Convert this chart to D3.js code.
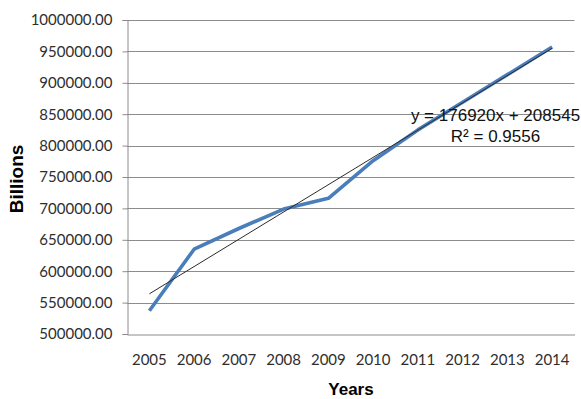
<!DOCTYPE html>
<html><head><meta charset="utf-8">
<script src="https://cdn.jsdelivr.net/npm/d3@7"></script>
<style>
html,body{margin:0;padding:0;background:#fff;}
svg{display:block;}
</style></head>
<body>
<script>
const years = ["2005","2006","2007","2008","2009","2010","2011","2012","2013","2014"];
const values = [537000, 635000, 668000, 699000, 716000, 776000, 825000, 869000, 913000, 957000];
const yTicks = [500000, 550000, 600000, 650000, 700000, 750000, 800000, 850000, 900000, 950000, 1000000];
const equationLines = ["y = 176920x + 208545", "R\u00B2 = 0.9556"];
const yTitle = "Billions";
const xTitle = "Years";

const W = 581, H = 399;
const L = 127, R = 574.5, T = 20, B = 334;

const svg = d3.select("body").append("svg").attr("width", W).attr("height", H);

const x = d3.scaleBand().domain(years).range([L, R]).paddingInner(0).paddingOuter(0);
const y = d3.scaleLinear().domain([500000, 1000000]).range([B, T]);
const cx = d => x(d) + x.bandwidth() / 2;

// gridlines
svg.append("g").selectAll("line").data(yTicks.filter(v => v > 500000)).join("line")
  .attr("x1", L).attr("x2", R).attr("y1", d => Math.round(y(d)) + 0.5).attr("y2", d => Math.round(y(d)) + 0.5)
  .attr("stroke", "#8c8c8c").attr("stroke-width", 1);

// y axis
const yAxis = d3.axisLeft(y).tickValues(yTicks).tickSize(5).tickPadding(10)
  .tickFormat(d => d3.format(".2f")(d));
const gy = svg.append("g").attr("transform", `translate(${L + 0.5},0)`).call(yAxis);
gy.select(".domain").attr("stroke", "#8c8c8c");
gy.selectAll(".tick line").attr("stroke", "#8c8c8c");
gy.selectAll(".tick text").attr("font-family", "Lato, 'Open Sans', sans-serif").attr("font-size", 15)
  .attr("fill", "#2e2e2e");

// x axis
const xAxis = d3.axisBottom(x).tickSize(0).tickPadding(20);
const gx = svg.append("g").attr("transform", `translate(0,${B + 0.5})`).call(xAxis);
gx.select(".domain").attr("stroke", "#8c8c8c");
gx.selectAll(".tick text").attr("font-family", "Lato, 'Open Sans', sans-serif").attr("font-size", 15)
  .attr("fill", "#2e2e2e");

// data line
const line = d3.line().x((d, i) => cx(years[i])).y(d => y(d));
svg.append("path").datum(values).attr("d", line)
  .attr("fill", "none").attr("stroke", "#4a7ebb").attr("stroke-width", 3.6)
  .attr("stroke-linejoin", "round").attr("stroke-linecap", "butt");

// linear trend line (least squares)
const n = values.length;
const xs = d3.range(n);
const mx = d3.mean(xs), my = d3.mean(values);
const slope = d3.sum(xs, i => (i - mx) * (values[i] - my)) / d3.sum(xs, i => (i - mx) ** 2);
const icpt = my - slope * mx;
svg.append("line")
  .attr("x1", cx(years[0])).attr("y1", y(icpt))
  .attr("x2", cx(years[n - 1])).attr("y2", y(icpt + slope * (n - 1)))
  .attr("stroke", "#2b2b2b").attr("stroke-width", 1);

// equation
const eq = svg.append("text").attr("font-family", "'Liberation Sans', Arial, sans-serif")
  .attr("font-size", 17).attr("fill", "#111").attr("text-anchor", "middle");
eq.selectAll("tspan").data(equationLines).join("tspan")
  .attr("x", 495.5).attr("y", (d, i) => 121 + i * 21).text(d => d);

// axis titles
svg.append("text").attr("transform", "translate(23,179) rotate(-90)")
  .attr("text-anchor", "middle").attr("font-family", "'Liberation Sans', Arial, sans-serif")
  .attr("font-weight", "bold").attr("font-size", 19).attr("fill", "#000").text(yTitle);
svg.append("text").attr("x", 351).attr("y", 395)
  .attr("text-anchor", "middle").attr("font-family", "'Liberation Sans', Arial, sans-serif")
  .attr("font-weight", "bold").attr("font-size", 17).attr("fill", "#000").text(xTitle);
</script>
</body></html>
